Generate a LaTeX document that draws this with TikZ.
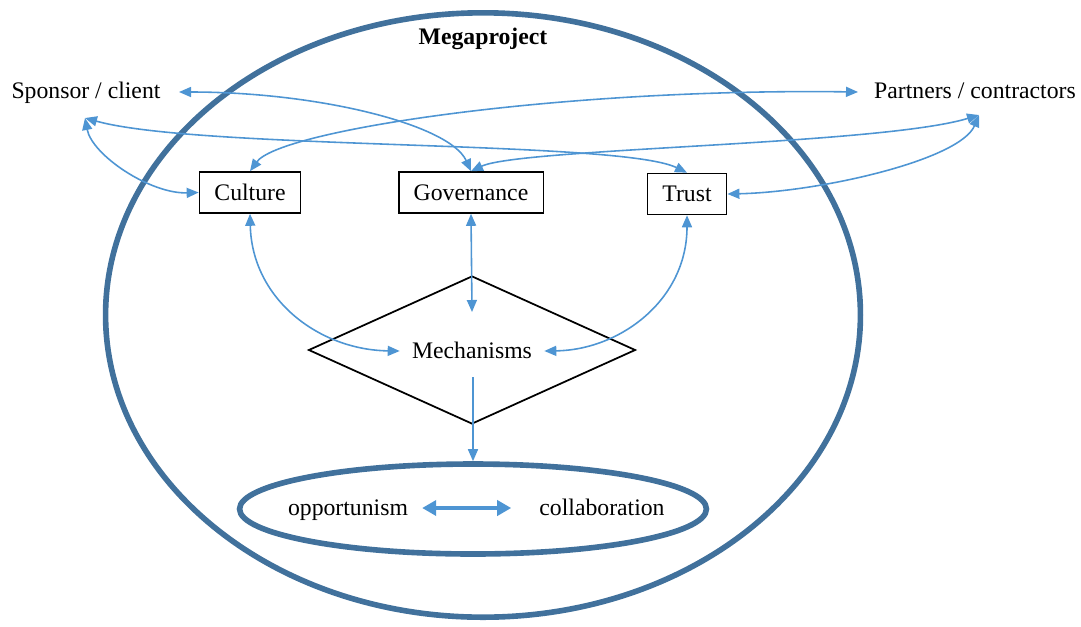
\documentclass[tikz,border=0pt]{standalone}
\usepackage{fontspec}
\setmainfont{Liberation Serif}
\usetikzlibrary{arrows.meta,shapes.geometric}
\definecolor{ringblue}{RGB}{65,113,156}
\definecolor{linkblue}{RGB}{78,149,211}
\begin{document}
\begin{tikzpicture}[x=0.02cm, y=-0.02cm,
        every node/.style={font=\fontsize{13.5}{16}\selectfont, text height=10pt, text depth=1pt},
        factor/.style={draw, line width=0.9pt, minimum height=0.82cm, inner xsep=0.3cm},
        ring/.style={ellipse, draw=ringblue, line width=3.2pt, inner sep=0pt},
        link/.style={draw=linkblue, line width=0.9pt, >={Triangle[length=0.24cm,width=0.2cm]}},
        bothway/.style={link, <->},
        oneway/.style={link, ->}]
      \useasboundingbox (0,0) rectangle (1081,626);
      \node [ring, minimum width=15.1cm, minimum height=12.09cm] (mega) at (483,315) {};
      \node [font=\fontsize{13.5}{16}\selectfont\bfseries] (title) at (483,37) {Megaproject};
      \node (spon) at (86,91) {Sponsor / client};
      \node (part) at (975,91) {Partners / contractors};
      \coordinate (sponA) at (179,92);
      \coordinate (sponB) at (85,118);
      \coordinate (partA) at (858,92);
      \coordinate (partB) at (979,115);
      \node [factor] (cult) at (250,192.5) {Culture};
      \node [factor] (gov) at (471,192.5) {Governance};
      \node [factor] (trust) at (687,194) {Trust};
      \node [diamond, draw, line width=1pt, minimum width=6.54cm, minimum height=2.96cm, inner sep=0pt] (diam) at (472,350) {};
      \node [inner xsep=0.24cm] (mech) at (472,351) {Mechanisms};
      \coordinate (mechtop) at (472,312);
      \coordinate (mechbot) at (473,377);
      \node [ring, minimum width=9.34cm, minimum height=1.8cm] (outcome) at (473,509) {};
      \node (opp) at (348,508) {opportunism};
      \node (coll) at (602,508) {collaboration};
      % links to the parties
      \draw [bothway] (sponA) .. controls (320,92) and (450,125) .. (gov.north);
      \draw [bothway] (cult.north) .. controls (280,130) and (560,88) .. (partA);
      \draw [bothway] (sponB) .. controls (200,150) and (620,140) .. (trust.north);
      \draw [bothway] (sponB) .. controls (92,155) and (150,194) .. (cult.west);
      \draw [bothway] (gov.north) .. controls (520,148) and (880,145) .. (partB);
      \draw [bothway] (partB) .. controls (960,160) and (820,192) .. (trust.east);
      % links to the mechanisms
      \draw [bothway] (cult.south) .. controls (252,300) and (320,350) .. (mech.west);
      \draw [bothway] (gov.south) -- (mechtop);
      \draw [bothway] (trust.south) .. controls (687,300) and (620,350) .. (mech.east);
      \draw [oneway] (mechbot) -- (outcome.north);
      \draw [link, line width=2.6pt, <->, >={Triangle[length=0.28cm,width=0.3cm]},
        shorten <=0.16cm, shorten >=0.44cm] (opp.east) -- (coll.west);
    \end{tikzpicture}
\end{document}
